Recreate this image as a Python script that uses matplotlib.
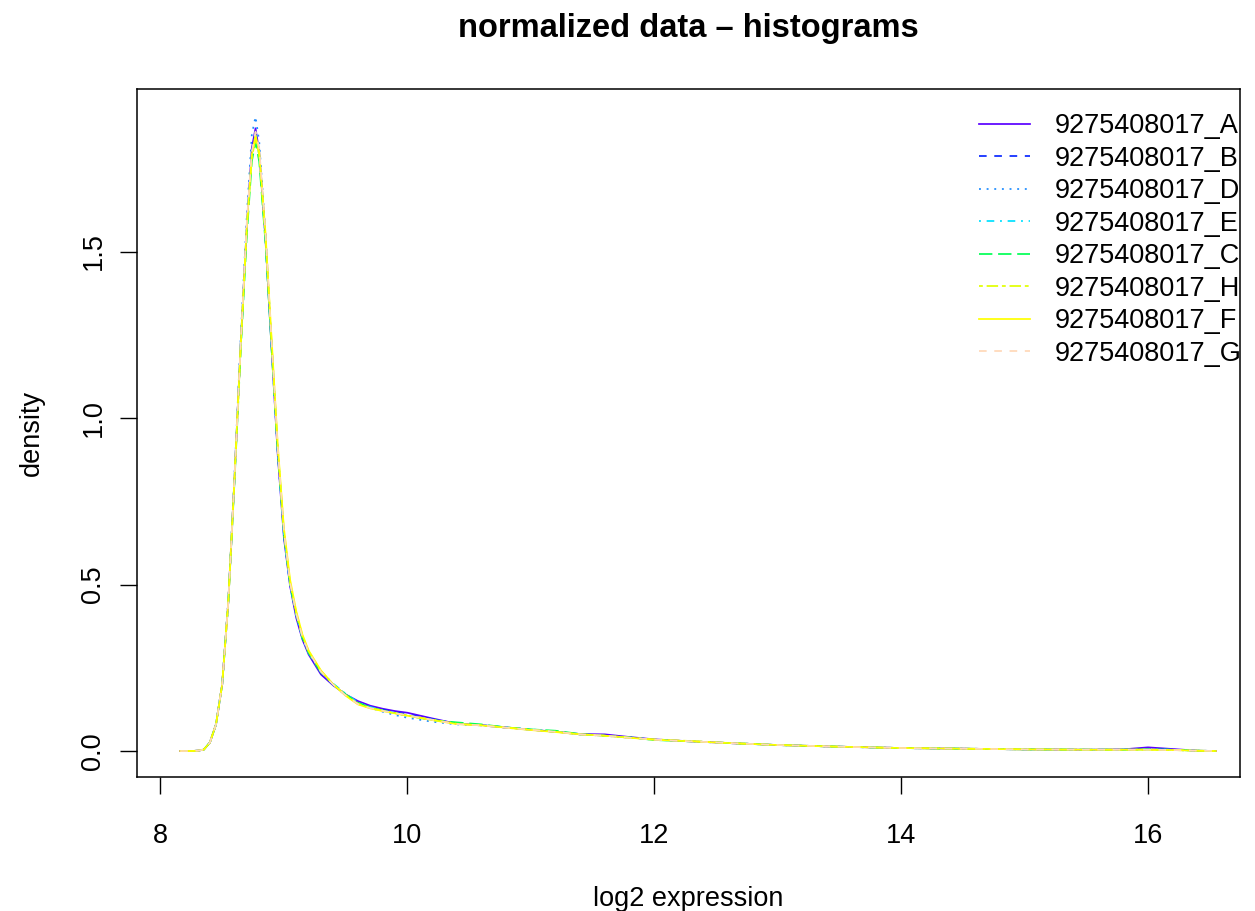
import matplotlib
matplotlib.use("Agg")
import matplotlib.pyplot as plt

plt.rcParams['font.family'] = ['Liberation Sans', 'DejaVu Sans']

# shared grid of log2 expression values
x_grid = [8.16, 8.25, 8.30, 8.35, 8.40, 8.45, 8.50, 8.55, 8.60, 8.65, 8.70, 8.74, 8.77,
          8.80, 8.85, 8.90, 8.95, 9.00, 9.05, 9.10, 9.15, 9.20, 9.30, 9.40, 9.50, 9.60,
          9.70, 9.80, 9.90, 10.0, 10.2, 10.4, 10.6, 10.8, 11.0, 11.2, 11.4, 11.6, 11.8,
          12.0, 12.3, 12.6, 13.0, 13.5, 14.0, 14.5, 15.0, 15.5, 15.8, 16.0, 16.2, 16.4, 16.55]

samples = ["9275408017_A", "9275408017_B", "9275408017_D", "9275408017_E",
           "9275408017_C", "9275408017_H", "9275408017_F", "9275408017_G"]

dens_A = [0.000, 0.000, 0.001, 0.004, 0.025, 0.080, 0.200, 0.450, 0.820, 1.220, 1.580, 1.810, 1.870,
          1.800, 1.540, 1.210, 0.890, 0.640, 0.495, 0.400, 0.335, 0.290, 0.230, 0.197, 0.170, 0.150,
          0.136, 0.127, 0.120, 0.115, 0.098, 0.082, 0.078, 0.071, 0.064, 0.058, 0.051, 0.050, 0.042,
          0.035, 0.029, 0.024, 0.018, 0.013, 0.009, 0.007, 0.005, 0.004, 0.005, 0.011, 0.006, 0.001, 0.000]
dens_B = [0.000, 0.000, 0.001, 0.004, 0.025, 0.080, 0.200, 0.450, 0.820, 1.220, 1.580, 1.800, 1.860,
          1.800, 1.550, 1.220, 0.900, 0.650, 0.500, 0.410, 0.340, 0.295, 0.235, 0.198, 0.168, 0.144,
          0.132, 0.124, 0.117, 0.110, 0.096, 0.082, 0.077, 0.070, 0.064, 0.058, 0.050, 0.047, 0.041,
          0.034, 0.029, 0.024, 0.018, 0.013, 0.009, 0.007, 0.005, 0.004, 0.004, 0.006, 0.004, 0.001, 0.000]
dens_D = [0.000, 0.000, 0.001, 0.004, 0.025, 0.080, 0.200, 0.450, 0.830, 1.240, 1.610, 1.850, 1.905,
          1.830, 1.560, 1.220, 0.900, 0.650, 0.500, 0.410, 0.340, 0.295, 0.237, 0.200, 0.170, 0.145,
          0.130, 0.118, 0.108, 0.100, 0.088, 0.080, 0.077, 0.070, 0.064, 0.058, 0.050, 0.046, 0.040,
          0.034, 0.029, 0.024, 0.018, 0.013, 0.009, 0.007, 0.005, 0.004, 0.004, 0.005, 0.003, 0.001, 0.000]
dens_E = [0.000, 0.000, 0.001, 0.004, 0.025, 0.080, 0.200, 0.450, 0.820, 1.220, 1.580, 1.790, 1.850,
          1.790, 1.540, 1.220, 0.900, 0.650, 0.500, 0.410, 0.340, 0.295, 0.238, 0.202, 0.172, 0.146,
          0.132, 0.122, 0.114, 0.107, 0.094, 0.083, 0.078, 0.071, 0.065, 0.059, 0.050, 0.046, 0.040,
          0.034, 0.029, 0.024, 0.018, 0.013, 0.009, 0.007, 0.005, 0.004, 0.004, 0.005, 0.004, 0.001, 0.000]
dens_C = [0.000, 0.000, 0.001, 0.004, 0.025, 0.080, 0.200, 0.450, 0.810, 1.200, 1.550, 1.770, 1.830,
          1.770, 1.530, 1.210, 0.900, 0.650, 0.500, 0.410, 0.340, 0.295, 0.236, 0.200, 0.170, 0.145,
          0.131, 0.122, 0.114, 0.106, 0.093, 0.086, 0.080, 0.071, 0.065, 0.061, 0.051, 0.046, 0.041,
          0.033, 0.029, 0.024, 0.018, 0.013, 0.009, 0.007, 0.005, 0.004, 0.004, 0.005, 0.004, 0.001, 0.000]
dens_H = [0.000, 0.000, 0.001, 0.004, 0.025, 0.080, 0.200, 0.450, 0.820, 1.210, 1.570, 1.780, 1.840,
          1.790, 1.550, 1.230, 0.910, 0.660, 0.505, 0.415, 0.345, 0.300, 0.240, 0.200, 0.168, 0.142,
          0.129, 0.121, 0.114, 0.107, 0.094, 0.082, 0.077, 0.071, 0.064, 0.058, 0.050, 0.046, 0.040,
          0.035, 0.030, 0.024, 0.018, 0.013, 0.009, 0.007, 0.005, 0.004, 0.004, 0.004, 0.003, 0.001, 0.000]
dens_F = [0.000, 0.000, 0.001, 0.004, 0.025, 0.080, 0.200, 0.450, 0.820, 1.220, 1.580, 1.790, 1.850,
          1.800, 1.560, 1.240, 0.920, 0.670, 0.515, 0.420, 0.350, 0.302, 0.242, 0.200, 0.166, 0.140,
          0.128, 0.120, 0.113, 0.106, 0.093, 0.081, 0.077, 0.070, 0.063, 0.057, 0.050, 0.046, 0.040,
          0.034, 0.029, 0.024, 0.018, 0.013, 0.009, 0.007, 0.005, 0.004, 0.004, 0.004, 0.003, 0.001, 0.000]
dens_G = [0.000, 0.000, 0.001, 0.004, 0.025, 0.080, 0.200, 0.450, 0.820, 1.220, 1.590, 1.800, 1.860,
          1.810, 1.560, 1.230, 0.910, 0.660, 0.505, 0.412, 0.342, 0.298, 0.238, 0.199, 0.167, 0.141,
          0.129, 0.121, 0.114, 0.107, 0.094, 0.081, 0.077, 0.070, 0.064, 0.058, 0.050, 0.046, 0.040,
          0.034, 0.029, 0.024, 0.018, 0.013, 0.009, 0.007, 0.005, 0.004, 0.004, 0.004, 0.003, 0.001, 0.000]

densities = [dens_A, dens_B, dens_D, dens_E, dens_C, dens_H, dens_F, dens_G]

colors = ["#5A00FF", "#0A28FF", "#1E8CFF", "#00E0FF", "#00FF55", "#E2FF00", "#FFFF00", "#FFD8B8"]
# R lty 1..6 then recycled
styles = ["-", (0, (4.4, 4.4)), (0, (1.1, 3.3)), (0, (1.1, 3.3, 4.4, 3.3)),
          (0, (7.7, 3.3)), (0, (2.2, 2.2, 6.6, 2.2)), "-", (0, (4.4, 4.4))]

fig = plt.figure(figsize=(12.55, 9.11), dpi=100)
ax = fig.add_axes([137 / 1255, 1 - 777 / 911, 1103 / 1255, 688 / 911])

for name, y, c, ls in zip(samples, densities, colors, styles):
    ax.plot(x_grid, y, color=c, linestyle=ls, linewidth=1.25, label=name)

ax.set_xlim(7.81, 16.745)
ax.set_ylim(-0.078, 1.988)
ax.set_xticks([8, 10, 12, 14, 16])
ax.set_yticks([0.0, 0.5, 1.0, 1.5])
ax.set_yticklabels(["0.0", "0.5", "1.0", "1.5"], rotation=90, va="center")
ax.tick_params(axis="both", labelsize=19.5, length=12, width=1.0, direction="out")
ax.tick_params(axis="x", pad=21)
ax.tick_params(axis="y", pad=10)
for s in ax.spines.values():
    s.set_linewidth(1.1)

ax.set_xlabel("log2 expression", fontsize=19.5)
ax.xaxis.set_label_coords(0.5, -122 / 688)
ax.xaxis.label.set_va("center")
ax.set_ylabel("density", fontsize=19.5)
ax.yaxis.set_label_coords(-105 / 1103, 0.5)
ax.yaxis.label.set_va("center")

ax.text(0.5, 1 + 61 / 688, "normalized data \u2013 histograms", transform=ax.transAxes,
        ha="center", va="center", fontsize=23.5, fontweight="bold")

ax.legend(loc="upper right", bbox_to_anchor=(1.0 + 22 / 1103, 1.0 - 4 / 688), frameon=False,
          fontsize=19.5, handlelength=1.9, handletextpad=0.9, labelspacing=0.24,
          borderaxespad=0.0, borderpad=0.75)

fig.savefig("out.png", dpi=100)
